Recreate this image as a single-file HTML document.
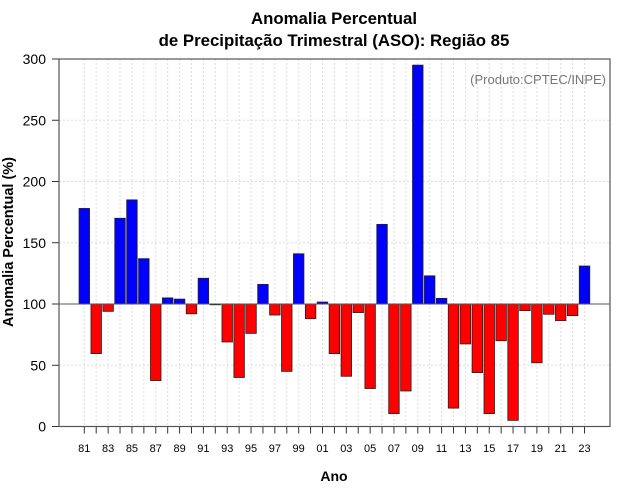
<!DOCTYPE html>
<html><head><meta charset="utf-8"><style>
body{margin:0;background:#fff}
svg{display:block;font-family:"Liberation Sans",sans-serif}
</style></head><body>
<svg id="chart" width="640" height="500">
<text x="334" y="24" text-anchor="middle" font-size="16.8" font-weight="bold">Anomalia Percentual</text>
<text x="334" y="46" text-anchor="middle" font-size="16.8" font-weight="bold">de Precipitação Trimestral (ASO): Região 85</text>
<text x="334" y="481" text-anchor="middle" font-size="14" font-weight="bold">Ano</text>
<text transform="translate(13,242) rotate(-90)" text-anchor="middle" font-size="14.5" font-weight="bold">Anomalia Percentual (%)</text>
<g id="grid"></g><g id="bars"></g><g id="axes"></g>
<text x="606" y="84" text-anchor="end" font-size="13" fill="#777">(Produto:CPTEC/INPE)</text>
</svg>
<script>
const years=["81","82","83","84","85","86","87","88","89","90","91","92","93","94","95","96","97","98","99","00","01","02","03","04","05","06","07","08","09","10","11","12","13","14","15","16","17","18","19","20","21","22","23"];
const values=[178,59.5,94,170,185,137,37.5,105,104,92,121,99.5,69,40,76,116,91,45,141,88,101.6,59.5,41,93,31,165,10.5,29,295,123,104.6,15,67.4,44,10.5,70,5,94.6,52,91.6,86.4,90.5,131];
const yTicks=[0,50,100,150,200,250,300];
const baseline=100;
const L=59,R=610,T=59,B=426.5;
const x0=84.3,dx=11.91,bw=10.5;
function xs(i){return x0+i*dx;}
function ys(v){return B-(v/300)*(B-T);}
const ns="http://www.w3.org/2000/svg";
function mk(tag,attrs,parent){const e=document.createElementNS(ns,tag);for(const k in attrs)e.setAttribute(k,attrs[k]);parent.appendChild(e);return e;}
const grid=document.getElementById('grid'),bars=document.getElementById('bars'),axes=document.getElementById('axes');
yTicks.forEach(t=>{
 const l=mk('line',{x1:L,x2:R,y1:ys(t),y2:ys(t),stroke:'#ddd','stroke-dasharray':'2,2'},grid);
 
 
 const tk=mk('line',{x1:L-7,x2:L,y1:ys(t),y2:ys(t),stroke:'#333'},axes);
 
 
 const tx=mk('text',{x:L-13,y:ys(t)+5,'text-anchor':'end','font-size':'14'},axes);
 tx.textContent=t;
 
 
});
years.forEach((y,i)=>{
 const g=mk('line',{x1:xs(i),x2:xs(i),y1:T,y2:B,stroke:'#ddd','stroke-dasharray':'2,2'},grid);
 
 
 const v=values[i];
 const top=Math.min(ys(v),ys(baseline)),h=Math.max(Math.abs(ys(v)-ys(baseline)),0.8);
 const r=mk('rect',{x:xs(i)-bw/2,y:top,width:bw,height:h,fill:v>=baseline?'#0000ff':'#ff0000',stroke:'#222','stroke-width':'0.8'},bars);
 
 
 const tk=mk('line',{x1:xs(i),x2:xs(i),y1:B,y2:B+7,stroke:'#333'},axes);
 
 
 if(i%2===0){
  const tx=mk('text',{x:xs(i),y:452,'text-anchor':'middle','font-size':'11'},axes);
  tx.textContent=y;
  
  
 }
});
const bl=mk('line',{x1:L,x2:R,y1:ys(baseline),y2:ys(baseline),stroke:'#555','stroke-width':'1'},axes);


const fr=mk('rect',{x:L,y:T,width:R-L,height:B-T,fill:'none',stroke:'#555','stroke-width':'1.2'},axes);


</script>
</body></html>
